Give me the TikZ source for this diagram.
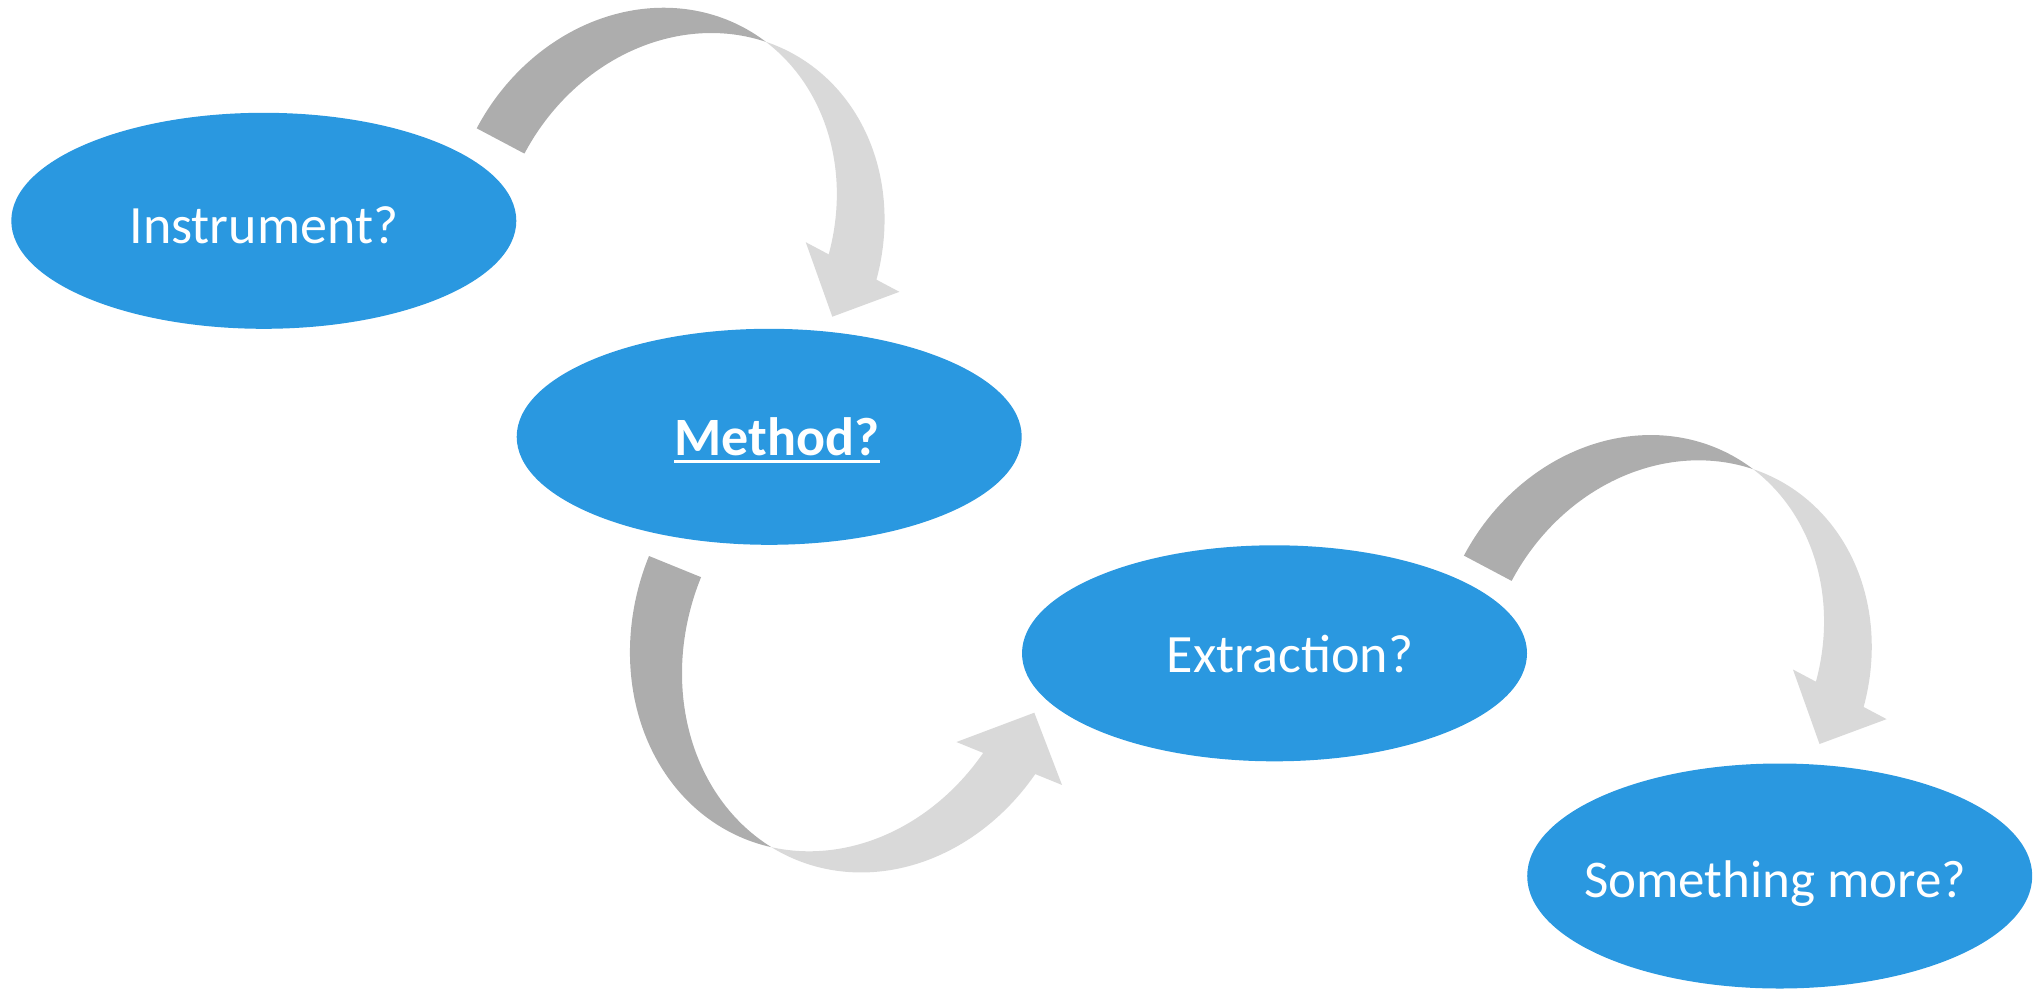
\documentclass[tikz,border=0pt]{standalone}
\usepackage{fontspec}
\setmainfont{Carlito}
\usetikzlibrary{shapes.geometric}
\definecolor{nodeblue}{RGB}{42,152,224}
\definecolor{arrowdark}{RGB}{173,173,173}
\definecolor{arrowlight}{RGB}{217,217,217}
\begin{document}
\begin{tikzpicture}[x=1pt,y=-1pt,
  bubble/.style={ellipse, fill=nodeblue, minimum width=505pt, minimum height=216pt, inner sep=0pt},
  qtext/.style={anchor=base, text=white, inner sep=0pt, font=\fontsize{54}{60}\selectfont},
  backband/.style={fill=arrowdark},
  frontband/.style={fill=arrowlight},
  arc plot/.style={smooth, samples=70, variable=\t},
  % curved down arrow: two equal ellipses (radii 188 x 214) offset by the band width 54
  bentarrow/.pic={
    \begin{scope}[x={(0.8837pt,-0.4682pt)}, y={(0.4682pt,0.8837pt)}]
      \fill[frontband] plot[arc plot, domain=81.74:14.45] ({188+188*cos(\t)},{214*sin(\t)})
        -- (344.05,53.4) -- (402.4,0) -- (450.05,53.4)
        -- plot[arc plot, domain=14.45:98.26] ({242+188*cos(\t)},{214*sin(\t)}) -- cycle;
      \fill[backband] plot[arc plot, domain=180:81.74] ({188+188*cos(\t)},{214*sin(\t)})
        -- plot[arc plot, domain=98.26:180] ({242+188*cos(\t)},{214*sin(\t)}) -- cycle;
    \end{scope}
  }]
\useasboundingbox (0,0) rectangle (2033,990);

% curved arrows
\pic at (476.7,128.3) {bentarrow};
\pic at (1463.9,555.6) {bentarrow};

% curved up arrow (radii 195 x 226, band width 56.2)
\begin{scope}[shift={(649,556)}, x={(0.9262pt,-0.3767pt)}, y={(-0.3767pt,-0.9262pt)}]
  \fill[frontband] plot[arc plot, domain=81.71:14.48] ({195+195*cos(\t)},{226*sin(\t)})
    -- (354.9,56.5) -- (416,0) -- (468.9,56.5)
    -- plot[arc plot, domain=14.48:98.29] ({251.2+195*cos(\t)},{226*sin(\t)}) -- cycle;
  \fill[backband] plot[arc plot, domain=180:81.71] ({195+195*cos(\t)},{226*sin(\t)})
    -- plot[arc plot, domain=98.29:180] ({251.2+195*cos(\t)},{226*sin(\t)}) -- cycle;
\end{scope}

% ellipses
\node[bubble] (e1) at (263.8,220.8) {};
\node[bubble] (e2) at (769.2,436.8) {};
\node[bubble] (e3) at (1274.5,653.3) {};
\node[bubble, minimum height=225pt] (e4) at (1779.7,876) {};

% texts
\node[qtext] (t1) at (263.8,243.3) {Instrument?};
\node[qtext, font=\fontsize{54}{60}\selectfont\bfseries] (t2) at (777,455) {Method?};
\draw[white, line width=2.5pt] ([yshift=-6.7pt]t2.base west) -- ([yshift=-6.7pt]t2.base east);
\node[qtext] (t3) at (1290,672.3) {Extraction?};
\node[qtext, font=\fontsize{53}{60}\selectfont] (t4) at (1775.3,897.3) {Something more?};
\end{tikzpicture}
\end{document}
